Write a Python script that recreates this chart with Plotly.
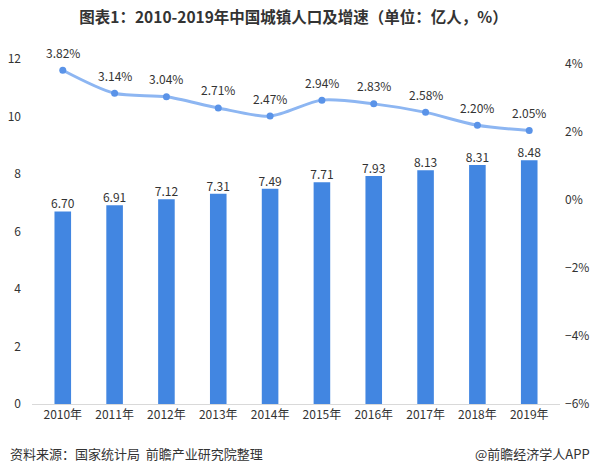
import plotly.graph_objects as go

years = ["2010年", "2011年", "2012年", "2013年", "2014年", "2015年", "2016年", "2017年", "2018年", "2019年"]
population = [6.70, 6.91, 7.12, 7.31, 7.49, 7.71, 7.93, 8.13, 8.31, 8.48]
growth = [3.82, 3.14, 3.04, 2.71, 2.47, 2.94, 2.83, 2.58, 2.20, 2.05]

font_family = "Noto Sans CJK SC, Noto Sans, sans-serif"
W, H = 593, 474
ML, MR, MT, MB = 32, 33, 59, 70
PW, PH = W - ML - MR, H - MT - MB

fig = go.Figure()
fig.add_trace(go.Bar(
    x=years, y=population,
    marker=dict(color="#4286E1", line=dict(width=0)),
    width=0.32,
    yaxis="y",
    hoverinfo="skip",
))
fig.add_trace(go.Scatter(
    x=years, y=population,
    mode="text",
    text=[f"{v:.2f}" for v in population],
    textposition="top center",
    textfont=dict(size=12, color="#333333", family=font_family),
    cliponaxis=False,
    yaxis="y",
))
fig.add_trace(go.Scatter(
    x=years, y=growth,
    mode="lines+markers",
    line=dict(color="#8DB6F2", width=3, shape="spline", smoothing=0.8),
    marker=dict(color="#5A93E8", size=7),
    cliponaxis=False,
    yaxis="y2",
))

annotations = []
for yr, g in zip(years, growth):
    annotations.append(dict(
        x=yr, y=g, xref="x", yref="y2", text=f"{g:.2f}%",
        showarrow=False, yshift=18, xanchor="center", yanchor="middle",
        font=dict(size=12, color="#333333", family=font_family),
    ))
annotations.append(dict(
    text="资料来源：国家统计局  前瞻产业研究院整理",
    x=(8 - ML) / PW, y=(H - MB - 453) / PH, xref="paper", yref="paper",
    showarrow=False, xanchor="left", yanchor="middle",
    font=dict(size=13, color="#333333", family=font_family)))
annotations.append(dict(
    text="@前瞻经济学人APP",
    x=(W - 1 - ML) / PW, y=(H - MB - 453) / PH, xref="paper", yref="paper",
    showarrow=False, xanchor="right", yanchor="middle",
    font=dict(size=13, color="#333333", family=font_family)))

fig.update_layout(
    width=W, height=H,
    margin=dict(l=ML, r=MR, t=MT, b=MB, autoexpand=False),
    paper_bgcolor="white", plot_bgcolor="white",
    showlegend=False,
    title=dict(
        text="<b>图表1：2010-2019年中国城镇人口及增速（单位：亿人，%）</b>",
        x=0.495, xanchor="center", y=0.963, yanchor="middle",
        font=dict(size=15.5, color="#333333", family=font_family),
    ),
    font=dict(family=font_family, color="#333333"),
    xaxis=dict(
        showline=True, linecolor="#D9D9D9", linewidth=1,
        ticks="", tickfont=dict(size=12, color="#333333"),
        showgrid=False, automargin=False,
    ),
    yaxis=dict(
        range=[0, 12], tickvals=[0, 2, 4, 6, 8, 10, 12],
        showgrid=False, zeroline=False, showline=False,
        tickfont=dict(size=12, color="#333333"), ticklabelstandoff=10,
        automargin=False,
    ),
    yaxis2=dict(
        overlaying="y", side="right",
        range=[-6, 4.15], tickvals=[-6, -4, -2, 0, 2, 4],
        ticktext=["−6%", "−4%", "−2%", "0%", "2%", "4%"],
        showgrid=False, zeroline=False, showline=False,
        tickfont=dict(size=12, color="#333333"), ticklabelstandoff=4,
        automargin=False,
    ),
    annotations=annotations,
)

fig.write_html("out.html", config={"displayModeBar": False})

# remove default body margin so the figure sits at the window origin
with open("out.html", "r", encoding="utf-8") as f:
    html = f.read()
html = html.replace("<body>", '<body style="margin:0;padding:0;">', 1)
with open("out.html", "w", encoding="utf-8") as f:
    f.write(html)
